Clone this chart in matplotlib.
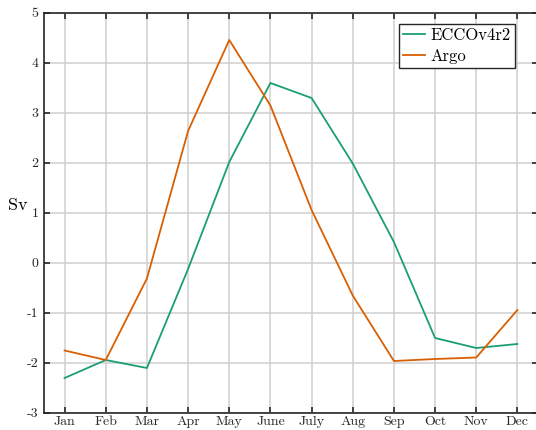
import numpy as np
import matplotlib.pyplot as plt

plt.rcParams['font.family'] = 'cmr10'
plt.rcParams['mathtext.fontset'] = 'cm'
plt.rcParams['axes.unicode_minus'] = False
plt.rcParams['axes.formatter.use_mathtext'] = True

# monthly transport (Sv)
months = ['Jan', 'Feb', 'Mar', 'Apr', 'May', 'June', 'July', 'Aug', 'Sep', 'Oct', 'Nov', 'Dec']
ecco = [-2.31, -1.95, -2.11, -0.13, 2.01, 3.59, 3.29, 1.98, 0.41, -1.51, -1.71, -1.63]
argo = [-1.76, -1.95, -0.32, 2.63, 4.45, 3.14, 1.05, -0.66, -1.97, -1.93, -1.90, -0.95]

x = np.arange(1, 13)

fig = plt.figure(figsize=(5.36, 4.30), dpi=100)
ax = fig.add_axes([44 / 536, 17.5 / 430, 494 / 536, 400 / 430])

ax.plot(x, ecco, color='#1b9e77', lw=1.3, label='ECCOv4r2')
ax.plot(x, argo, color='#d95f02', lw=1.3, label='Argo')

ax.set_xlim(0.5, 12.5)
ax.set_ylim(-3, 5)
ax.set_xticks(x)
ax.set_xticklabels(months)
ax.set_yticks(np.arange(-3, 6))
ax.set_yticklabels([str(v) for v in range(-3, 6)])

ax.grid(True, color='#d0d0d0', lw=1.1)
ax.set_axisbelow(True)
ax.tick_params(direction='in', length=4, width=1.2, top=True, right=True,
               labelsize=10, colors='#262626')
ax.tick_params(axis='x', pad=2.5)
ax.tick_params(axis='y', pad=4)
for s in ax.spines.values():
    s.set_color('#262626')
    s.set_linewidth(1.2)

ax.set_ylabel('Sv', rotation=0, fontsize=13)
ax.yaxis.set_label_coords(-0.053, 0.5)

leg = ax.legend(loc='upper right', bbox_to_anchor=(0.953, 0.972), fontsize=12,
                fancybox=False, framealpha=1, edgecolor='#262626',
                handlelength=1.35, handletextpad=0.3, borderpad=0.25,
                labelspacing=0.35, borderaxespad=0)
leg.get_frame().set_linewidth(1.0)

fig.savefig('out.png', dpi=100)
